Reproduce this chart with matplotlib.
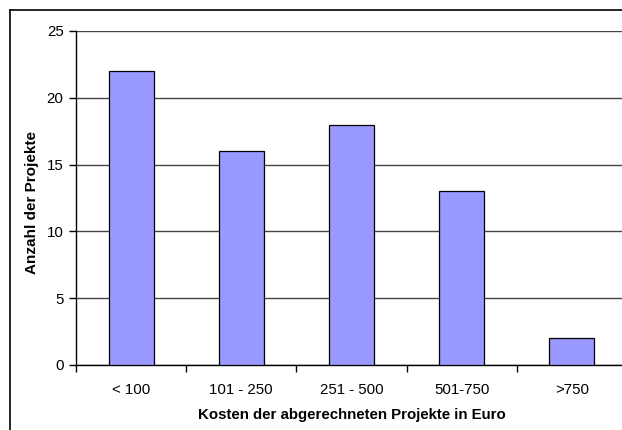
import matplotlib
matplotlib.use("Agg")
import matplotlib.pyplot as plt
from matplotlib.lines import Line2D
import numpy as np

categories = ["< 100", "101 - 250", "251 - 500", "501-750", ">750"]
values = [22, 16, 18, 13, 2]
yticks = [0, 5, 10, 15, 20, 25]

plt.rcParams['font.family'] = ['Liberation Sans', 'DejaVu Sans']

W, H = 622, 430
fig = plt.figure(figsize=(W / 100, H / 100), dpi=100)
ax = fig.add_axes([76 / W, (H - 365) / H, (627 - 76) / W, (365 - 31) / H])

x = np.arange(len(categories))
ax.bar(x, values, width=0.41, color="#9999FF", edgecolor="black", linewidth=0.9, zorder=3)

ax.set_xlim(-0.5, len(categories) - 0.5)
ax.set_ylim(0, 25)
ax.set_yticks(yticks)
ax.set_yticklabels([str(v) for v in yticks], fontsize=10.8)
ax.yaxis.grid(True, color="#444444", linewidth=1.0, zorder=0)
ax.set_axisbelow(True)

ax.set_xticks(x)
ax.set_xticklabels(categories, fontsize=10.8)
ax.tick_params(axis="x", which="major", length=0, pad=13)
ax.set_xticks(np.arange(len(categories) + 1) - 0.5, minor=True)
ax.tick_params(axis="x", which="minor", length=5, width=1, color="black", direction="out")
ax.tick_params(axis="y", length=5, width=1, color="black", direction="out", pad=4)

for s in ["top", "right"]:
    ax.spines[s].set_visible(False)
ax.spines["left"].set_color("black")
ax.spines["bottom"].set_color("black")
ax.spines["left"].set_linewidth(1.0)
ax.spines["bottom"].set_linewidth(1.0)

fig.text(32 / W, 1 - 202 / H, "Anzahl der Projekte", rotation=90, ha="center", va="center",
         fontsize=11, fontweight="bold")
fig.text(352 / W, 1 - 415 / H, "Kosten der abgerechneten Projekte in Euro", ha="center", va="center",
         fontsize=10.8, fontweight="bold")

# outer chart border (left and top visible)
fig.add_artist(Line2D([10 / W, 10 / W], [0, 1 - 10 / H], transform=fig.transFigure, color="black", linewidth=1.2))
fig.add_artist(Line2D([10 / W, 1], [1 - 10 / H, 1 - 10 / H], transform=fig.transFigure, color="black", linewidth=1.2))

fig.savefig("out.png", dpi=100)
